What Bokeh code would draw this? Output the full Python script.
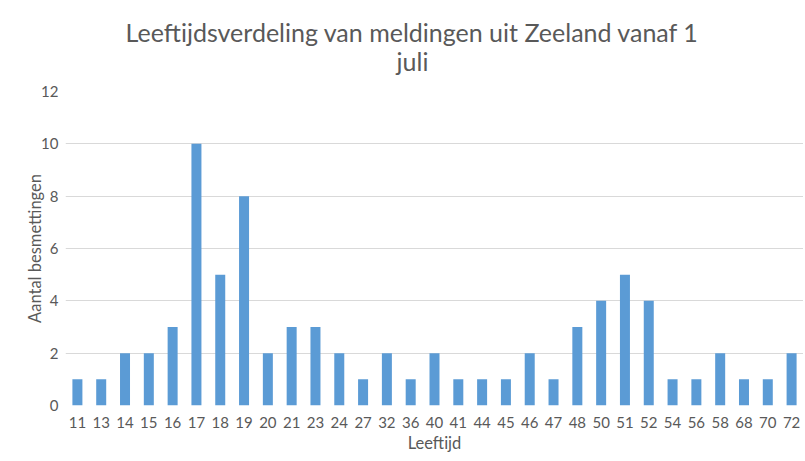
from bokeh.plotting import figure
from bokeh.layouts import column
from bokeh.models import Range1d, FixedTicker
from bokeh.core.properties import value
from bokeh.embed import file_html
from bokeh.resources import INLINE

leeftijd = ["11", "13", "14", "15", "16", "17", "18", "19", "20", "21", "23", "24", "27", "32", "36",
            "40", "41", "44", "45", "46", "47", "48", "50", "51", "52", "54", "56", "58", "68", "70", "72"]
aantal = [1, 1, 2, 2, 3, 10, 5, 8, 2, 3, 3, 2, 1, 2, 1, 2, 1, 1, 1, 2, 1, 3, 4, 5, 4, 1, 1, 2, 1, 1, 2]
y_ticks = [0, 2, 4, 6, 8, 10, 12]
title_lines = ["Leeftijdsverdeling van meldingen uit Zeeland vanaf 1", "juli"]

FONT = "Lato"
GREY = "#595959"
W = 803
TH = 80
LEFT = 65

# --- title strip ---
t = figure(width=W, height=TH, output_backend="svg", toolbar_location=None,
           x_range=Range1d(LEFT, W), y_range=Range1d(0, TH),
           min_border=0, x_axis_type=None, y_axis_type=None)
t.outline_line_color = None
t.grid.grid_line_color = None
t.text(x=[412, 412], y=[TH - 31, TH - 60], text=title_lines,
       text_font=value(FONT), text_font_size="25px", text_color=GREY,
       text_align="center", text_baseline="alphabetic")

# --- chart ---
pos = list(range(1, len(leeftijd) + 1))

p = figure(width=W, height=375, output_backend="svg", toolbar_location=None,
           x_range=Range1d(0.5, len(leeftijd) + 0.5), y_range=Range1d(0, 12),
           min_border_left=LEFT, min_border_right=0, min_border_top=11, min_border_bottom=42)

p.vbar(x=pos, top=aantal, width=0.42, color="#5b9bd5", line_color=None)

p.outline_line_color = None
p.xgrid.grid_line_color = None
p.ygrid.grid_line_color = "#d9d9d9"
p.ygrid.grid_line_width = 1

p.xaxis.ticker = FixedTicker(ticks=pos)
p.xaxis.major_label_overrides = {i: lab for i, lab in zip(pos, leeftijd)}
p.yaxis.ticker = FixedTicker(ticks=y_ticks)

for ax in (p.xaxis[0], p.yaxis[0]):
    ax.axis_line_color = None
    ax.major_tick_line_color = None
    ax.minor_tick_line_color = None
    ax.major_label_text_font = FONT
    ax.major_label_text_font_size = "15px"
    ax.major_label_text_color = GREY
    ax.axis_label_text_font = FONT
    ax.axis_label_text_font_size = "16.5px"
    ax.axis_label_text_color = GREY
    ax.axis_label_text_font_style = "normal"

p.xaxis.axis_label = "Leeftijd"
p.yaxis.axis_label = "Aantal besmettingen"
p.xaxis.major_label_standoff = 5
p.yaxis.major_label_standoff = 1
p.xaxis.axis_label_standoff = 2
p.yaxis.axis_label_standoff = -7

layout = column(t, p, spacing=0)
open("out.html", "w").write(file_html(layout, INLINE))
